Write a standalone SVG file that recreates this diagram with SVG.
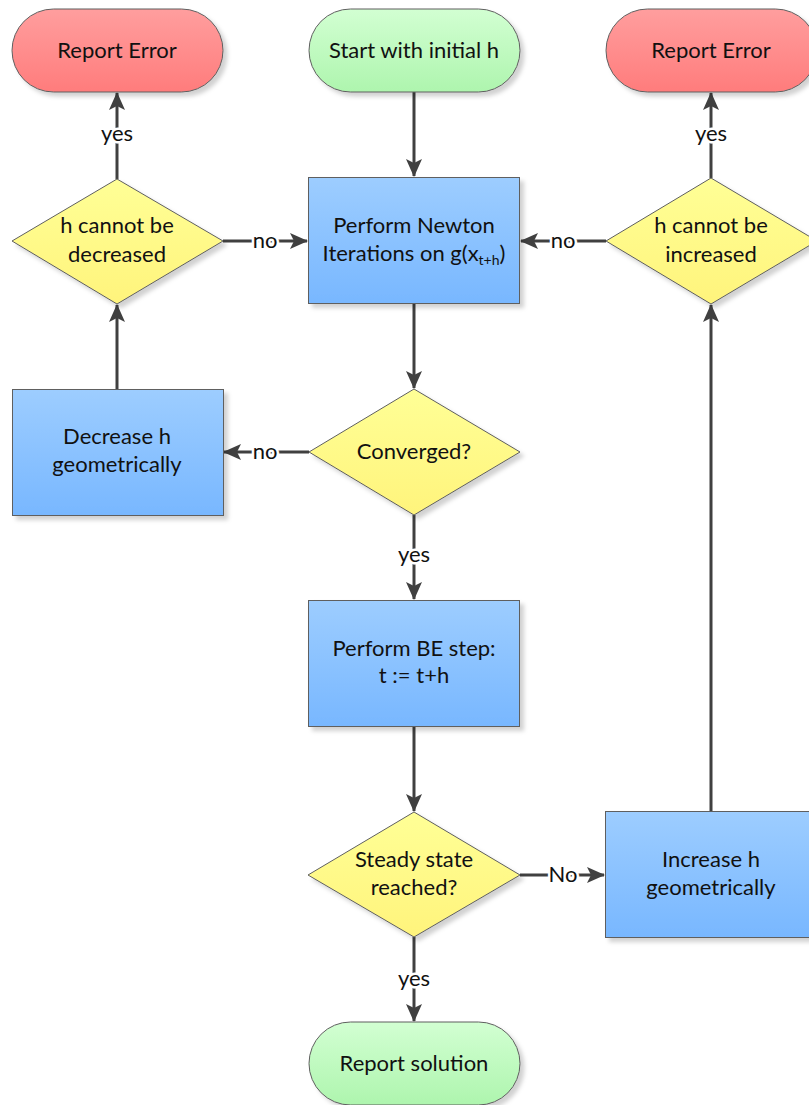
<svg xmlns="http://www.w3.org/2000/svg" width="809" height="1105" viewBox="0 0 809 1105">
<style>
text{font-family:Lato,"Liberation Sans",sans-serif;font-size:22px;fill:#111;text-anchor:middle}
.term,.proc,.dec{stroke:#5f5f5f;stroke-width:1;filter:url(#sh)}
.red{fill:url(#gRed)}
.green{fill:url(#gGreen)}
.proc{fill:url(#gBlue)}
.dec{fill:url(#gYel)}
.c{stroke:#404040;stroke-width:3;fill:none;marker-end:url(#ah)}
.lbl{stroke:#fff;stroke-width:5;paint-order:stroke;stroke-linejoin:round}
</style>
<defs>
<linearGradient id="gRed" x1="0" y1="0" x2="0" y2="1"><stop offset="0" stop-color="#ff9e9e"/><stop offset="1" stop-color="#ff7c7c"/></linearGradient>
<linearGradient id="gGreen" x1="0" y1="0" x2="0" y2="1"><stop offset="0" stop-color="#d2ffd2"/><stop offset="1" stop-color="#aef5ae"/></linearGradient>
<linearGradient id="gBlue" x1="0" y1="0" x2="0" y2="1"><stop offset="0" stop-color="#9dcdff"/><stop offset="1" stop-color="#78b7ff"/></linearGradient>
<linearGradient id="gYel" x1="0" y1="0" x2="0" y2="1"><stop offset="0" stop-color="#ffff96"/><stop offset="1" stop-color="#fff47c"/></linearGradient>
<filter id="sh" x="-10%" y="-10%" width="130%" height="130%"><feDropShadow dx="4" dy="4" stdDeviation="2" flood-color="#000" flood-opacity="0.18"/></filter>
<marker id="ah" viewBox="0 0 18 18" refX="17" refY="9" markerWidth="18" markerHeight="18" markerUnits="userSpaceOnUse" orient="auto"><path d="M0,1 L18,9 L0,17 L4,9 Z" fill="#404040"/></marker>
</defs>

<g id="connectors">
<path class="c" d="M414,92 V176"/>
<path class="c" d="M414,304 V388"/>
<path class="c" d="M309,452 H224"/>
<path class="c" d="M117,389 V305"/>
<path class="c" d="M223,241 H307"/>
<path class="c" d="M117,179 V93"/>
<path class="c" d="M414,515 V599"/>
<path class="c" d="M414,727 V811"/>
<path class="c" d="M520,875 H604"/>
<path class="c" d="M711,811 V305"/>
<path class="c" d="M606,241 H521"/>
<path class="c" d="M711,178 V93"/>
<path class="c" d="M414,937 V1021"/>
<text class="lbl" x="265" y="459">no</text>
<text class="lbl" x="265" y="248">no</text>
<text class="lbl" x="117" y="141">yes</text>
<text class="lbl" x="414" y="562">yes</text>
<text class="lbl" x="563" y="882">No</text>
<text class="lbl" x="563" y="248">no</text>
<text class="lbl" x="711" y="141">yes</text>
<text class="lbl" x="414" y="986">yes</text>
</g>

<g id="report-error-left">
<rect class="term red" x="12" y="9" width="211" height="83" rx="41.5"/>
<text x="117" y="58">Report Error</text>
</g>
<g id="start">
<rect class="term green" x="309" y="9" width="211" height="83" rx="41.5"/>
<text x="414" y="58">Start with initial h</text>
</g>
<g id="report-error-right">
<rect class="term red" x="606" y="9" width="211" height="83" rx="41.5"/>
<text x="711" y="58">Report Error</text>
</g>
<g id="newton">
<rect class="proc" x="308.5" y="177.5" width="211" height="126"/>
<text x="414" y="233">Perform Newton</text>
<text x="414" y="261">Iterations on g(x<tspan font-size="14" dy="4">t+h</tspan><tspan dy="-4">)</tspan></text>
</g>
<g id="cannot-decrease">
<polygon class="dec" points="117,179 223,241 117,304 12,241"/>
<text x="117" y="233">h cannot be</text>
<text x="117" y="262">decreased</text>
</g>
<g id="cannot-increase">
<polygon class="dec" points="711,178 817,241 711,304 606,241"/>
<text x="711" y="233">h cannot be</text>
<text x="711" y="262">increased</text>
</g>
<g id="decrease">
<rect class="proc" x="12.5" y="389.5" width="211" height="126"/>
<text x="117" y="444">Decrease h</text>
<text x="117" y="472">geometrically</text>
</g>
<g id="converged">
<polygon class="dec" points="414,389 520,452 414,515 309,452"/>
<text x="414" y="459">Converged?</text>
</g>
<g id="be-step">
<rect class="proc" x="308.5" y="600.5" width="211" height="126"/>
<text x="414" y="656">Perform BE step:</text>
<text x="414" y="683">t := t+h</text>
</g>
<g id="steady">
<polygon class="dec" points="414,812 520,875 414,937 308,875"/>
<text x="414" y="867">Steady state</text>
<text x="414" y="895">reached?</text>
</g>
<g id="increase">
<rect class="proc" x="605.5" y="811.5" width="212" height="126"/>
<text x="711" y="867">Increase h</text>
<text x="711" y="895">geometrically</text>
</g>
<g id="report-solution">
<rect class="term green" x="309" y="1022" width="211" height="83" rx="41.5"/>
<text x="414" y="1071">Report solution</text>
</g>
</svg>
